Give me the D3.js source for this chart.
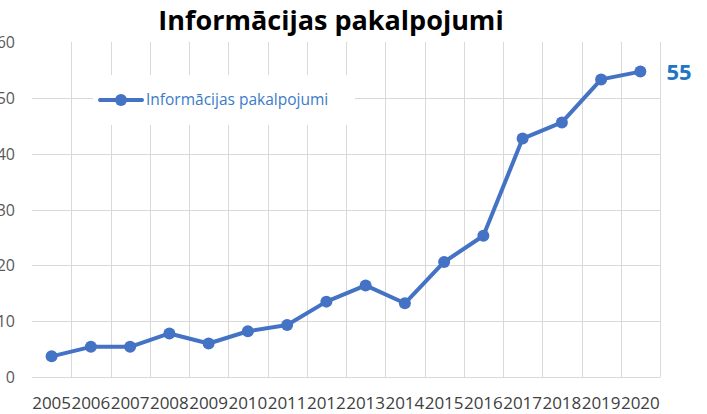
<!DOCTYPE html>
<html>
<head>
<meta charset="utf-8">
<script src="https://cdn.jsdelivr.net/npm/d3@7"></script>
<style>
  body { margin: 0; background: #fff; }
  svg { display: block; font-family: "Open Sans", "Noto Sans", sans-serif; }
</style>
</head>
<body>
<div id="viz"></div>
<script>
const years = ["2005","2006","2007","2008","2009","2010","2011","2012","2013","2014","2015","2016","2017","2018","2019","2020"];
const values = [3.7, 5.4, 5.4, 7.8, 6.0, 8.2, 9.3, 13.5, 16.4, 13.2, 20.6, 25.3, 42.7, 45.6, 53.3, 54.7];
const yTicks = [0, 10, 20, 30, 40, 50, 60];
const seriesName = "Informācijas pakalpojumi";
const endLabel = "55";

const width = 707;
const height = 414;
const plot = { left: 32, right: 660, top: 42, bottom: 377 };
const lineColor = "#4472C4";
const gridColor = "#d9d9d9";

const svg = d3.select("#viz")
    .append("svg")
    .attr("width", width)
    .attr("height", height);

const x = d3.scaleBand()
    .domain(years)
    .range([plot.left, plot.right]);

const y = d3.scaleLinear()
    .domain([0, 60])
    .range([plot.bottom, plot.top]);

// horizontal grid (top line is not drawn)
svg.append("g")
    .selectAll("line")
    .data(yTicks.filter(t => t < 60))
    .enter()
    .append("line")
    .attr("x1", plot.left)
    .attr("x2", plot.right)
    .attr("y1", d => Math.round(y(d)) + 0.5)
    .attr("y2", d => Math.round(y(d)) + 0.5)
    .attr("stroke", gridColor)
    .attr("stroke-width", 1);

// vertical grid at band edges
const edges = years.slice(1).map(d => x(d));
edges.push(plot.right);
svg.append("g")
    .selectAll("line")
    .data(edges)
    .enter()
    .append("line")
    .attr("x1", d => Math.round(d) + 0.5)
    .attr("x2", d => Math.round(d) + 0.5)
    .attr("y1", plot.top)
    .attr("y2", plot.bottom)
    .attr("stroke", gridColor)
    .attr("stroke-width", 1);

// y labels
svg.append("g")
    .selectAll("text")
    .data(yTicks)
    .enter()
    .append("text")
    .attr("x", 15)
    .attr("y", d => y(d) + 6)
    .attr("text-anchor", "end")
    .attr("font-size", 16)
    .attr("fill", "#595959")
    .text(d => d);

// x labels
svg.append("g")
    .selectAll("text")
    .data(years)
    .enter()
    .append("text")
    .attr("x", d => x(d) + x.bandwidth() / 2)
    .attr("y", 409)
    .attr("text-anchor", "middle")
    .attr("font-size", 17)
    .attr("fill", "#404040")
    .text(d => d);

// title
svg.append("text")
    .attr("x", 331)
    .attr("y", 30)
    .attr("text-anchor", "middle")
    .attr("font-size", 27)
    .attr("font-weight", "bold")
    .attr("fill", "#000")
    .text(seriesName);

// legend box
const legend = svg.append("g").attr("transform", "translate(93,75)");
legend.append("rect")
    .attr("width", 262)
    .attr("height", 50)
    .attr("fill", "#fff");
legend.append("line")
    .attr("x1", 7).attr("x2", 49)
    .attr("y1", 25).attr("y2", 25)
    .attr("stroke", lineColor)
    .attr("stroke-width", 4)
    .attr("stroke-linecap", "round");
legend.append("circle")
    .attr("cx", 28).attr("cy", 25).attr("r", 6)
    .attr("fill", lineColor);
legend.append("text")
    .attr("x", 53)
    .attr("y", 30)
    .attr("font-size", 15.5)
    .attr("fill", "#3a7bc8")
    .text(seriesName);

// line
const line = d3.line()
    .x((d, i) => x(years[i]) + x.bandwidth() / 2)
    .y(d => y(d));

svg.append("path")
    .datum(values)
    .attr("d", line)
    .attr("fill", "none")
    .attr("stroke", lineColor)
    .attr("stroke-width", 4)
    .attr("stroke-linejoin", "round");

svg.append("g")
    .selectAll("circle")
    .data(values)
    .enter()
    .append("circle")
    .attr("cx", (d, i) => x(years[i]) + x.bandwidth() / 2)
    .attr("cy", d => y(d))
    .attr("r", 6)
    .attr("fill", lineColor);

// end label
const last = values.length - 1;
svg.append("text")
    .attr("x", x(years[last]) + x.bandwidth() / 2 + 26)
    .attr("y", y(values[last]) + 8)
    .attr("font-size", 22)
    .attr("font-weight", "bold")
    .attr("fill", "#1f77c4")
    .text(endLabel);
</script>
</body>
</html>
